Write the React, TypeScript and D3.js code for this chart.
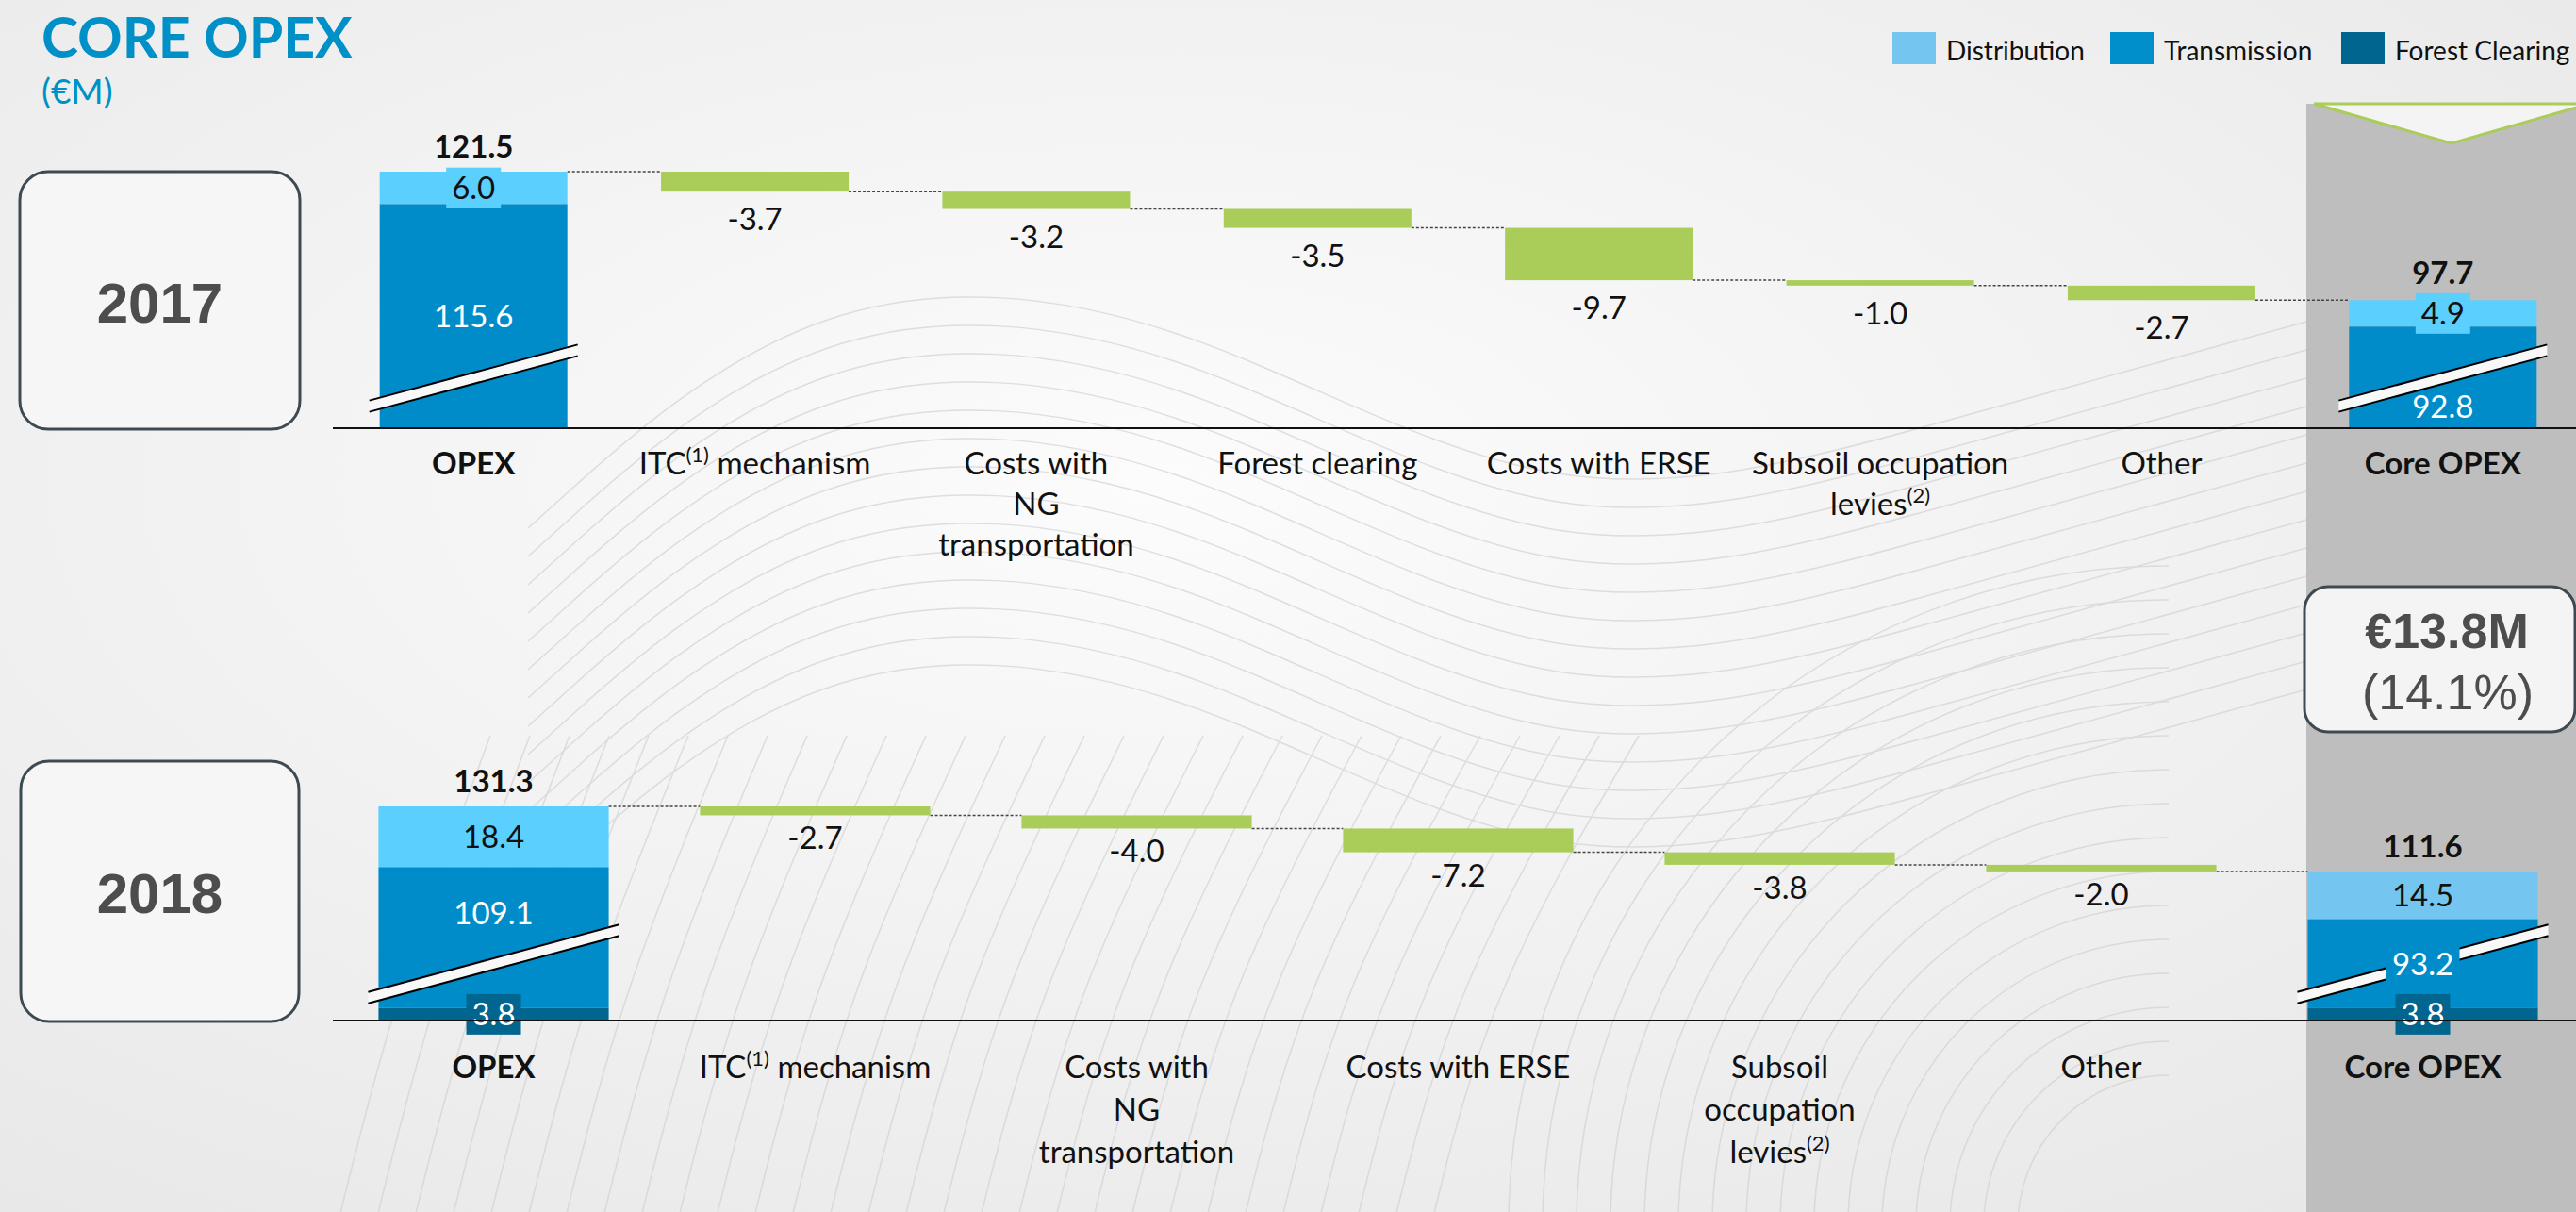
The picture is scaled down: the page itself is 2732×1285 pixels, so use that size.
import React from 'react';
import * as d3 from 'd3';

// ---------- DATA ----------
const seriesNames = ['Distribution', 'Transmission', 'Forest Clearing'];

const categories2017 = ['OPEX', 'ITC(1) mechanism', 'Costs with\nNG\ntransportation', 'Forest clearing', 'Costs with ERSE', 'Subsoil occupation\nlevies(2)', 'Other', 'Core OPEX'];
const steps2017 = [-3.7, -3.2, -3.5, -9.7, -1.0, -2.7];
const opex2017 = [6.0, 115.6, 0];
const core2017 = [4.9, 92.8, 0];
const totals2017 = [121.5, 97.7];

const categories2018 = ['OPEX', 'ITC(1) mechanism', 'Costs with\nNG\ntransportation', 'Costs with ERSE', 'Subsoil\noccupation\nlevies(2)', 'Other', 'Core OPEX'];
const steps2018 = [-2.7, -4.0, -7.2, -3.8, -2.0];
const opex2018 = [18.4, 109.1, 3.8];
const core2018 = [14.5, 93.2, 3.8];
const totals2018 = [131.3, 111.6];

const yearLabels = ['2017', '2018'];
const varianceLabels = ['€13.8M', '(14.1%)'];
const titleText = 'CORE OPEX';
const unitText = '(€M)';

// ---------- STYLE ----------
const W = 2732, H = 1285;
const DIST = '#5BCFFE';
const DIST_LIGHT = '#74C6F1';
const TRANS = '#008CC9';
const FOREST = '#006690';
const GREEN = '#A9CD58';
const PANEL = '#BEBEBE';
const BOX_STROKE = '#3E4A51';
const TITLE_BLUE = '#0090C8';
const FONT = "Lato, 'Open Sans', sans-serif";
const ARIAL = "'Liberation Sans', Arial, sans-serif";
const legendColors = [DIST_LIGHT, '#008FCB', FOREST];
const legendX = [2007, 2238, 2483];

const charts = [
  {
    year: yearLabels[0], cats: categories2017, steps: steps2017, opex: opex2017, core: core2017, totals: totals2017,
    axisY: 454, topY: 182, axisMin: 74, padIn: 0.333, stepDy: 41, catY: 503, lineH: 43, breakOff: 53,
    box: [21, 182, 297, 273], yearY: 342, transMode: ['center', 'below'], coreDist: DIST,
  },
  {
    year: yearLabels[1], cats: categories2018, steps: steps2018, opex: opex2018, core: core2018, totals: totals2018,
    axisY: 1082, topY: 855, axisMin: 66.4, padIn: 0.284, stepDy: 36, catY: 1143, lineH: 45, breakOff: 60,
    box: [22, 807, 295, 276], yearY: 968, transMode: ['above', 'centerBoxed'], coreDist: DIST_LIGHT,
  },
];

const LBL = 33;
const CAP = 12; // half cap height for vertical centering

function renderLine(line: string) {
  const parts = line.split(/(\(\d\))/).filter((p) => p.length > 0);
  let prevSup = false;
  return parts.map((p, i) => {
    const isSup = /^\(\d\)$/.test(p);
    const dy = isSup ? -13 : prevSup ? 13 : 0;
    prevSup = isSup;
    return (
      <tspan key={i} dy={dy} fontSize={isSup ? 22 : undefined}>{p}</tspan>
    );
  });
}

function LabelBox({ cx, cy, text, fill, color, boxed }: any) {
  const bwid = 20 * text.length - 2;
  return (
    <g>
      {boxed && <rect x={cx - bwid / 2} y={cy - 21.5} width={bwid} height={43} fill={fill} />}
      <text x={cx} y={cy + CAP} textAnchor="middle" fontFamily={FONT} fontSize={LBL} fill={color}>{text}</text>
    </g>
  );
}

function Chart({ cfg }: any) {
  const x = d3.scaleBand<string>().domain(cfg.cats).range([353, 2740]).paddingInner(cfg.padIn).paddingOuter(cfg.padIn / 2);
  const y = d3.scaleLinear().domain([cfg.axisMin, cfg.totals[0]]).range([cfg.axisY, cfg.topY]);
  const k = (cfg.axisY - cfg.topY) / (cfg.totals[0] - cfg.axisMin);
  const bw = x.bandwidth();
  const cats: string[] = cfg.cats;
  const first = cats[0], last = cats[cats.length - 1];
  const stacks = [
    { cat: first, vals: cfg.opex, total: cfg.totals[0], distColor: DIST, mode: cfg.transMode[0] },
    { cat: last, vals: cfg.core, total: cfg.totals[1], distColor: cfg.coreDist, mode: cfg.transMode[1] },
  ];

  let running = cfg.totals[0];
  const stepEls: any[] = [];
  const connectors: any[] = [];
  let prevRight = (x(first) as number) + bw;
  cfg.steps.forEach((s: number, i: number) => {
    const cat = cats[i + 1];
    const x0 = x(cat) as number;
    const yTop = y(running);
    const yBot = y(running + s);
    connectors.push({ x1: prevRight, x2: x0, y: yTop });
    stepEls.push({ x0, yTop, yBot, v: s });
    running += s;
    prevRight = x0 + bw;
  });
  connectors.push({ x1: prevRight, x2: x(last) as number, y: y(running) });

  const slope = 0.268;
  const cy = cfg.axisY - cfg.breakOff;

  return (
    <g>
      <rect x={cfg.box[0]} y={cfg.box[1]} width={cfg.box[2]} height={cfg.box[3]} rx={30} fill="#F6F6F6" stroke={BOX_STROKE} strokeWidth={3} />
      <text x={cfg.box[0] + cfg.box[2] / 2} y={cfg.yearY} textAnchor="middle" fontFamily={ARIAL} fontWeight="bold" fontSize={60} fill="#4D4D4D">{cfg.year}</text>

      {connectors.map((c, i) => (
        <line key={i} x1={c.x1} x2={c.x2} y1={c.y} y2={c.y} stroke="#444" strokeWidth={1.5} strokeDasharray="3 2" />
      ))}

      {stepEls.map((s, i) => (
        <g key={i}>
          <rect x={s.x0} y={s.yTop} width={bw} height={Math.max(1, s.yBot - s.yTop)} fill={GREEN} />
          <text x={s.x0 + bw / 2} y={s.yBot + cfg.stepDy} textAnchor="middle" fontFamily={FONT} fontSize={LBL} fill="#111">{s.v.toFixed(1)}</text>
        </g>
      ))}

      {stacks.map((st, si) => {
        const xs = x(st.cat) as number;
        const cx = xs + bw / 2;
        const [dist, trans, forest] = st.vals;
        const yTop = y(st.total);
        const yDist = y(st.total - dist);
        const yForest = cfg.axisY - forest * k;
        const xl = xs - 11, xr = xs + bw + 11;
        const ly = (xx: number, off: number) => cy + (cx - xx) * slope + off;
        const distC = (yTop + yDist) / 2;
        const distBoxed = yDist - yTop < 45;
        let transC = (yDist + yForest) / 2;
        if (st.mode === 'below') transC = (cy + 6 + cfg.axisY) / 2;
        if (st.mode === 'above') transC = (yDist + cy - 6) / 2;
        const transBoxed = st.mode === 'centerBoxed';
        const boxTop = distBoxed ? distC - 21.5 : yTop;
        const totalY = Math.min(yTop - 15, boxTop - 10);
        return (
          <g key={si}>
            <rect x={xs} y={yTop} width={bw} height={yDist - yTop} fill={st.distColor} />
            <rect x={xs} y={yDist} width={bw} height={yForest - yDist} fill={TRANS} />
            {forest > 0 && <rect x={xs} y={yForest} width={bw} height={cfg.axisY - yForest} fill={FOREST} />}
            <polygon points={`${xl},${ly(xl, -6)} ${xr},${ly(xr, -6)} ${xr},${ly(xr, 6)} ${xl},${ly(xl, 6)}`} fill="#F8F8F8" />
            <line x1={xl} x2={xr} y1={ly(xl, -6)} y2={ly(xr, -6)} stroke="#000" strokeWidth={2} />
            <line x1={xl} x2={xr} y1={ly(xl, 6)} y2={ly(xr, 6)} stroke="#000" strokeWidth={2} />
            <LabelBox cx={cx} cy={distC} text={dist.toFixed(1)} fill={st.distColor} color="#111" boxed={distBoxed} />
            <LabelBox cx={cx} cy={transC} text={trans.toFixed(1)} fill={TRANS} color="#fff" boxed={transBoxed} />
            {forest > 0 && <LabelBox cx={cx} cy={(yForest + cfg.axisY) / 2} text={forest.toFixed(1)} fill={FOREST} color="#fff" boxed={true} />}
            <text x={cx} y={totalY} textAnchor="middle" fontFamily={FONT} fontWeight="bold" fontSize={LBL} fill="#111">{st.total.toFixed(1)}</text>
          </g>
        );
      })}

      <line x1={353} x2={W} y1={cfg.axisY} y2={cfg.axisY} stroke="#111" strokeWidth={2} />

      {cats.map((c, i) => {
        const cx = (x(c) as number) + bw / 2;
        const bold = i === 0 || i === cats.length - 1;
        return c.split('\n').map((line, j) => (
          <text key={`${i}-${j}`} x={cx} y={cfg.catY + j * cfg.lineH} textAnchor="middle" fontFamily={FONT} fontSize={LBL} fontWeight={bold ? 'bold' : 'normal'} fill="#111">
            {renderLine(line)}
          </text>
        ));
      })}
    </g>
  );
}

function Decor() {
  const line = d3.line().curve(d3.curveBasis);
  const famA: string[] = [];
  for (let i = 0; i < 14; i++) {
    const o = i * 30;
    famA.push(line([[560, 560 + o], [860, 290 + o], [1250, 320 + o], [1650, 560 + o], [2050, 450 + o], [2450, 340 + o]]) as string);
  }
  const famB: string[] = [];
  for (let i = 0; i < 30; i++) {
    const o = i * 40;
    famB.push(line([[360 + o, 1290], [420 + o, 1050], [520 + o * 1.05, 780]]) as string);
  }
  const arcs: string[] = [];
  for (let r = 160; r <= 700; r += 36) {
    arcs.push(d3.arc()({ innerRadius: r, outerRadius: r, startAngle: -Math.PI / 2, endAngle: 0 }) as string);
  }
  return (
    <g fill="none" stroke="#D0D0D0" strokeWidth={1.5} opacity={0.65}>
      {famA.map((d, i) => <path key={'a' + i} d={d} />)}
      {famB.map((d, i) => <path key={'b' + i} d={d} />)}
      <g transform="translate(2300,1300)">
        {arcs.map((d, i) => <path key={'c' + i} d={d} />)}
      </g>
    </g>
  );
}

export default function App() {
  return (
    <svg width={W} height={H} viewBox={`0 0 ${W} ${H}`} style={{ position: 'absolute', left: 0, top: 0, display: 'block' }}>
      <defs>
        <radialGradient id="bg" cx="45%" cy="40%" r="75%">
          <stop offset="0%" stopColor="#FCFCFC" />
          <stop offset="100%" stopColor="#E8E8E8" />
        </radialGradient>
      </defs>
      <rect x={0} y={0} width={W} height={H} fill="url(#bg)" />
      <Decor />

      <rect x={2446} y={110} width={W - 2446} height={H - 110} fill={PANEL} />
      <polygon points="2454,110 2746,110 2600,152" fill="#F4F4F4" stroke={GREEN} strokeWidth={3} />

      <text x={44} y={61} fontFamily={FONT} fontWeight="bold" fontSize={59} fill={TITLE_BLUE}>{titleText}</text>
      <text x={44} y={110} fontFamily={FONT} fontSize={37} fill={TITLE_BLUE}>{unitText}</text>

      {seriesNames.map((s, i) => (
        <g key={s}>
          <rect x={legendX[i]} y={34} width={46} height={34} fill={legendColors[i]} />
          <text x={legendX[i] + 57} y={64} fontFamily={FONT} fontSize={28} fill="#111">{s}</text>
        </g>
      ))}

      {charts.map((c, i) => <Chart key={i} cfg={c} />)}

      <rect x={2444} y={622} width={287} height={154} rx={25} fill="#F4F4F4" stroke={BOX_STROKE} strokeWidth={3} />
      <text x={2595} y={687} textAnchor="middle" fontFamily={ARIAL} fontWeight="bold" fontSize={52} fill="#4D4D4D">{varianceLabels[0]}</text>
      <text x={2596} y={752} textAnchor="middle" fontFamily={ARIAL} fontSize={52} fill="#4D4D4D">{varianceLabels[1]}</text>
    </svg>
  );
}
